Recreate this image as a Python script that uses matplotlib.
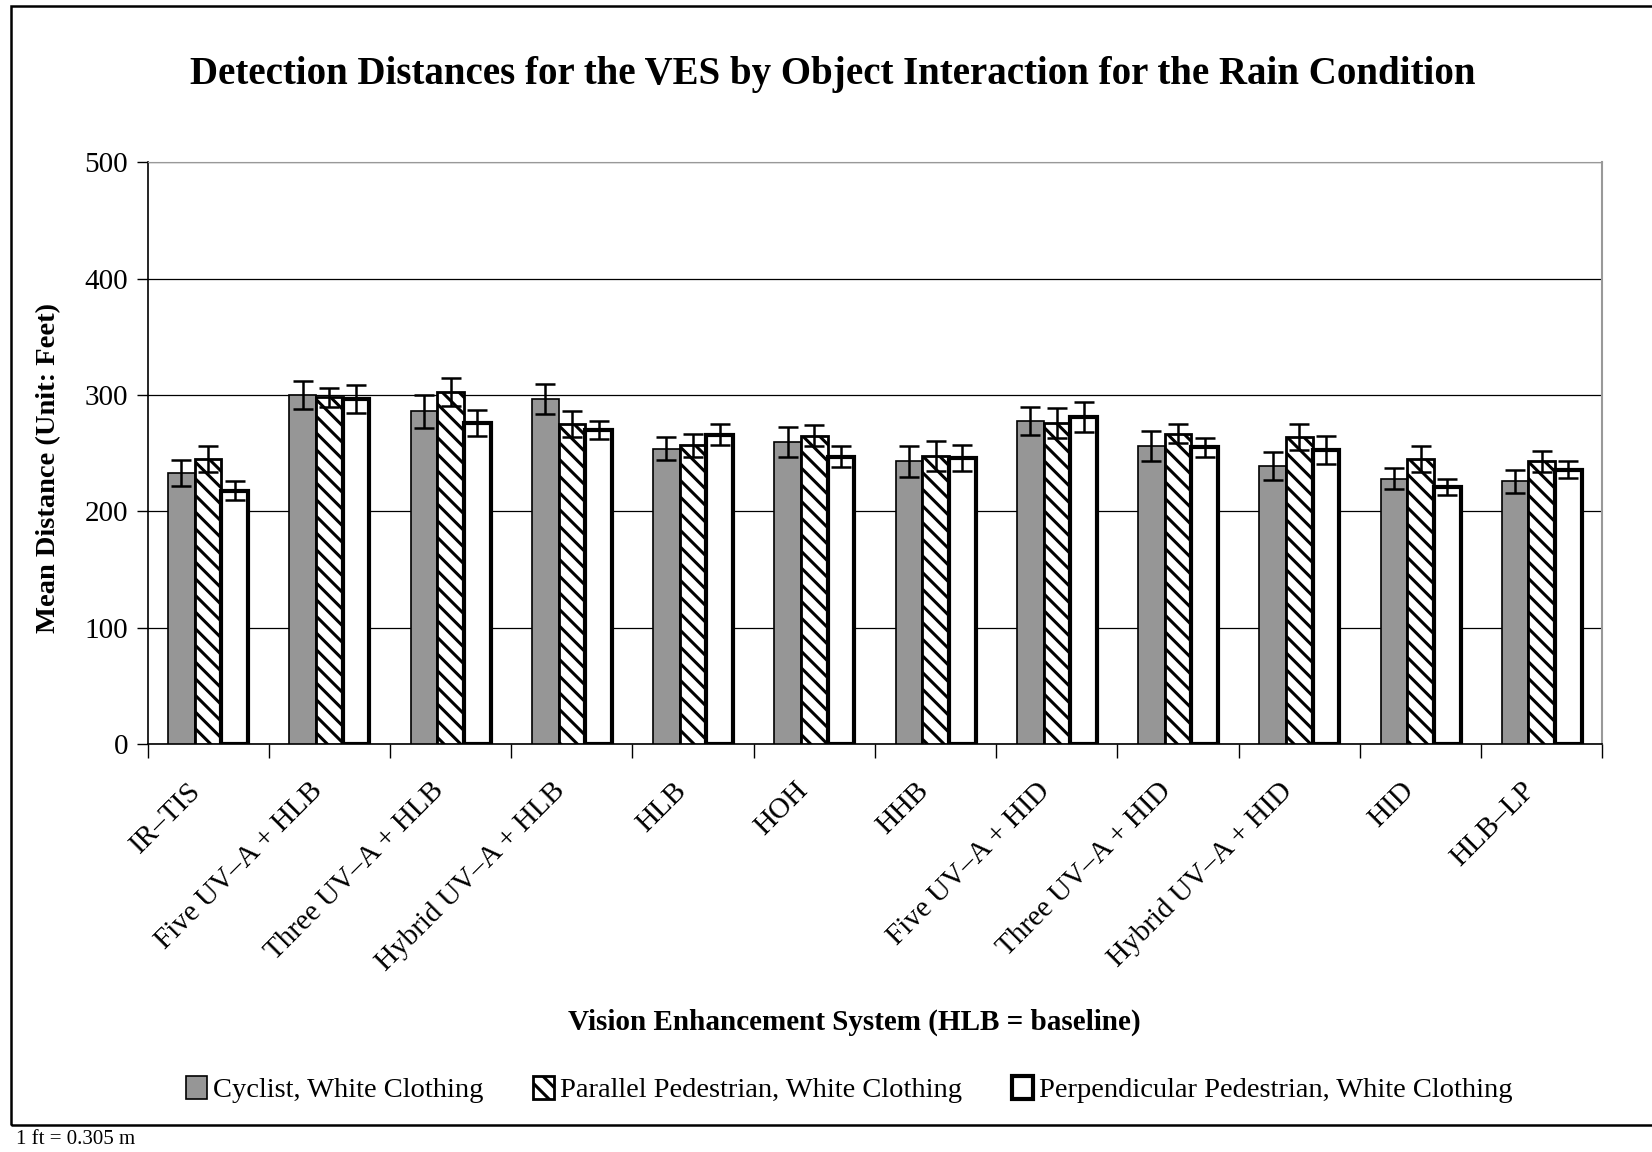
import numpy as np
import matplotlib
matplotlib.use('Agg')
import matplotlib.pyplot as plt
import matplotlib.transforms as mtransforms
from matplotlib.patches import Rectangle

# Chart data (feet)
systems = ['IR\u2013TIS', 'Five UV\u2013A + HLB', 'Three UV\u2013A + HLB', 'Hybrid UV\u2013A + HLB',
           'HLB', 'HOH', 'HHB', 'Five UV\u2013A + HID', 'Three UV\u2013A + HID',
           'Hybrid UV\u2013A + HID', 'HID', 'HLB\u2013LP']
cyclist = [233, 300, 286, 297, 254, 260, 243, 278, 256, 239, 228, 226]
cyclist_err = [11, 12, 14, 13, 10, 13, 13, 12, 13, 12, 9, 10]
parallel = [245, 298, 303, 275, 257, 265, 248, 276, 267, 264, 245, 243]
parallel_err = [11, 8, 12, 11, 10, 9, 13, 13, 8, 11, 11, 9]
perpendicular = [218, 297, 276, 270, 266, 247, 246, 281, 255, 253, 221, 236]
perpendicular_err = [8, 12, 11, 8, 9, 9, 11, 13, 8, 12, 7, 7]
series_names = ['Cyclist, White Clothing', 'Parallel Pedestrian, White Clothing',
                'Perpendicular Pedestrian, White Clothing']

plt.rcParams['font.family'] = ['Liberation Serif', 'DejaVu Serif']
plt.rcParams['hatch.linewidth'] = 2.2

fig = plt.figure(figsize=(16.52, 11.52), dpi=100)
ax = fig.add_axes([0.0893, 0.354, 0.8807, 0.505])

x = np.arange(len(systems))
w = 0.22
err_kw = dict(ecolor='black', elinewidth=1.8, capsize=7, capthick=1.8)

b1 = ax.bar(x - w, cyclist, w, yerr=cyclist_err, color='#969696', edgecolor='black',
            linewidth=1.2, error_kw=err_kw, zorder=3, label=series_names[0])
b2 = ax.bar(x, parallel, w, yerr=parallel_err, color='white', edgecolor='black', hatch='\\\\',
            linewidth=2.0, error_kw=err_kw, zorder=3, label=series_names[1])
b3 = ax.bar(x + w, perpendicular, w, yerr=perpendicular_err, color='white', edgecolor='black',
            linewidth=3.0, error_kw=err_kw, zorder=3, label=series_names[2])

# Axes styling
ax.set_xlim(-0.5, len(systems) - 0.5)
ax.set_ylim(0, 500)
ax.set_yticks(range(0, 501, 100))
ax.tick_params(axis='y', labelsize=21, length=8, width=1, pad=6, direction='out')
ax.set_xticks(np.arange(-0.5, len(systems), 1.0))
ax.set_xticklabels([])
ax.tick_params(axis='x', length=10, width=1, direction='out')
ax.set_xticks(x, minor=True)
ax.set_xticklabels(systems, minor=True, rotation=45, ha='right', rotation_mode='anchor', fontsize=21)
ax.tick_params(axis='x', which='minor', length=0, pad=14)

# nudge rotated labels down-left like the original
offset = mtransforms.ScaledTranslation(-0.2, -0.14, fig.dpi_scale_trans)
for lbl in ax.get_xticklabels(minor=True):
    lbl.set_transform(lbl.get_transform() + offset)

ax.yaxis.grid(True, color='black', linewidth=0.9, zorder=0)
ax.set_axisbelow(True)
ax.spines['left'].set_linewidth(1.2)
ax.spines['bottom'].set_linewidth(1.2)
ax.spines['top'].set_color('#999999')
ax.spines['right'].set_color('#999999')
ax.spines['right'].set_linewidth(1.5)

ax.set_ylabel('Mean Distance (Unit: Feet)', fontsize=20.5, fontweight='bold')
ax.yaxis.set_label_coords(-0.0595, 0.475)
fig.text(0.517, 0.1125, 'Vision Enhancement System (HLB = baseline)', fontsize=21,
         fontweight='bold', ha='center', va='center')
fig.text(0.504, 0.935, 'Detection Distances for the VES by Object Interaction for the Rain Condition',
         fontsize=28, fontweight='bold', ha='center', va='center')

# Legend
fig.legend(handles=[b1, b2, b3], loc='center', bbox_to_anchor=(0.514, 0.054), ncol=3,
           frameon=False, fontsize=20.5, handlelength=0.75, handleheight=0.85,
           handletextpad=0.2, columnspacing=1.75)

# Outer frame and footnote
fig.patches.append(Rectangle((0.0064, 0.0235), 1.0, 0.9715, transform=fig.transFigure,
                             fill=False, edgecolor='black', linewidth=1.8))
fig.text(0.0095, 0.0105, '1 ft = 0.305 m', fontsize=15, ha='left', va='center')

fig.savefig('out.png', dpi=100)
